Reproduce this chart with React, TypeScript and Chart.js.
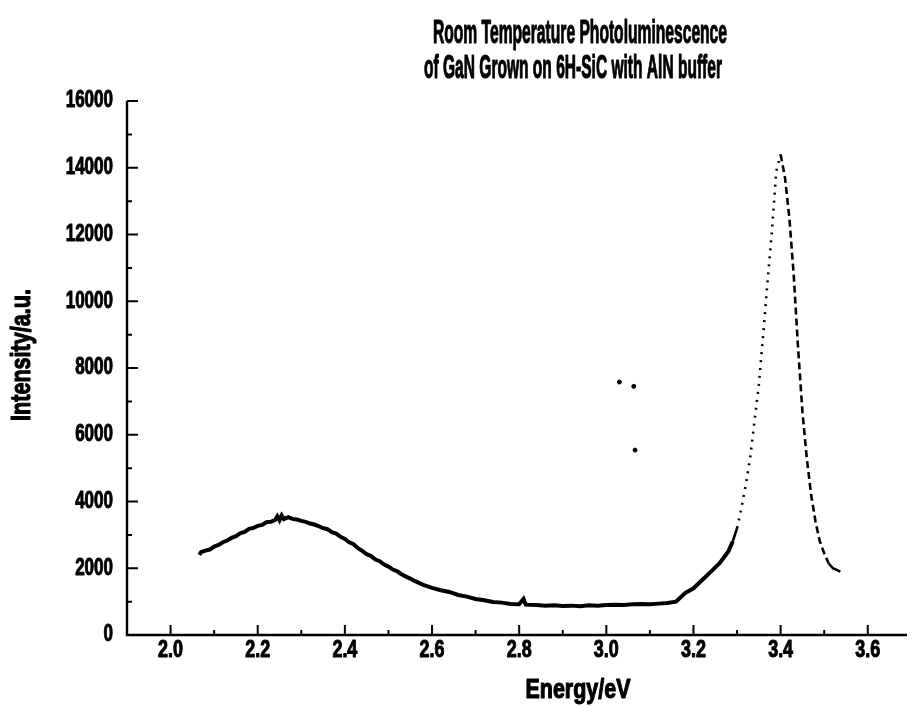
import React, { useEffect, useRef } from "react";
import { Chart, registerables } from "chart.js";

Chart.register(...registerables);

const energy = [
  2.066, 2.07, 2.08, 2.09, 2.1, 2.11, 2.12, 2.13, 2.14, 2.15, 2.16, 2.17, 2.18, 2.19, 2.2, 2.21, 2.22, 2.23, 2.24,
  2.245, 2.25, 2.255, 2.26, 2.27, 2.28, 2.29, 2.3, 2.31, 2.32, 2.33, 2.34, 2.35, 2.36, 2.37, 2.38, 2.39, 2.4, 2.41,
  2.42, 2.43, 2.44, 2.45, 2.46, 2.47, 2.48, 2.49, 2.5, 2.51, 2.52, 2.53, 2.54, 2.55, 2.56, 2.57, 2.58, 2.59, 2.6,
  2.62, 2.64, 2.66, 2.68, 2.7, 2.72, 2.74, 2.76, 2.78, 2.8, 2.81, 2.815, 2.84, 2.86, 2.88, 2.9, 2.92, 2.94, 2.96,
  2.98, 3.0, 3.02, 3.04, 3.06, 3.08, 3.1, 3.12, 3.14, 3.16, 3.18, 3.2, 3.22, 3.24, 3.26, 3.28, 3.29, 3.3, 3.31,
  3.32, 3.33, 3.34, 3.35, 3.36, 3.37, 3.38, 3.39, 3.4, 3.41, 3.42, 3.43, 3.44, 3.45, 3.46, 3.47, 3.48, 3.49, 3.5,
  3.51, 3.52, 3.537,
];
const intensity = [
  2400, 2480, 2530, 2560, 2650, 2700, 2780, 2830, 2910, 2960, 3050, 3090, 3180, 3210, 3270, 3300, 3380, 3390, 3450,
  3560, 3440, 3580, 3470, 3530, 3480, 3460, 3420, 3390, 3340, 3310, 3260, 3200, 3170, 3080, 3040, 2940, 2880, 2780,
  2720, 2600, 2520, 2420, 2370, 2260, 2210, 2110, 2050, 1960, 1910, 1820, 1750, 1690, 1620, 1560, 1500, 1460, 1410,
  1340, 1290, 1200, 1150, 1080, 1040, 990, 970, 930, 920, 1080, 910, 900, 880, 890, 870, 880, 860, 890,
  880, 900, 910, 900, 920, 930, 920, 940, 960, 1000, 1250, 1400, 1650, 1900, 2150, 2500, 2800, 3200, 3800,
  4500, 5300, 6400, 7500, 9000, 10600, 12100, 13900, 14400, 13700, 12500, 10800, 8600, 6700, 5300, 4200, 3400, 2800, 2450,
  2150, 2000, 1900,
];

const strayEnergy = [3.03, 3.063, 3.066];
const strayIntensity = [7580, 7450, 5540];

const xTickValues = [2.0, 2.2, 2.4, 2.6, 2.8, 3.0, 3.2, 3.4, 3.6];
const xMinorValues = [2.1, 2.3, 2.5, 2.7, 2.9, 3.1, 3.3, 3.5];
const yTickValues = [0, 2000, 4000, 6000, 8000, 10000, 12000, 14000, 16000];
const yMinorValues = [1000, 3000, 5000, 7000, 9000, 11000, 13000, 15000];

const titleLines = ["Room Temperature Photoluminescence", "of GaN Grown on 6H-SiC with AlN buffer"];
const xTitle = "Energy/eV";
const yTitle = "Intensity/a.u.";

const FONT = "'Liberation Sans', Arial, sans-serif";

function drawText(
  ctx: CanvasRenderingContext2D,
  text: string,
  x: number,
  y: number,
  size: number,
  opts: { width?: number; sx?: number; align?: CanvasTextAlign; rotate?: boolean; stroke?: number }
) {
  ctx.save();
  ctx.font = `bold ${size}px ${FONT}`;
  ctx.fillStyle = "#000";
  ctx.strokeStyle = "#000";
  ctx.lineWidth = opts.stroke ?? 1.2;
  ctx.lineJoin = "round";
  ctx.textAlign = opts.align ?? "center";
  ctx.textBaseline = "middle";
  ctx.translate(x, y);
  if (opts.rotate) ctx.rotate(-Math.PI / 2);
  const w = ctx.measureText(text).width;
  const sx = opts.width ? opts.width / w : opts.sx ?? 1;
  ctx.scale(sx, 1);
  ctx.fillText(text, 0, 0);
  ctx.strokeText(text, 0, 0);
  ctx.restore();
}

const framePlugin = {
  id: "frame",
  afterDraw(chart: any) {
    const ctx: CanvasRenderingContext2D = chart.ctx;
    const xs = chart.scales.x;
    const ys = chart.scales.y;
    const left = xs.left;
    const right = xs.right;
    const bottom = ys.bottom;
    const top = ys.top;
    ctx.save();
    ctx.strokeStyle = "#000";
    ctx.lineWidth = 2.4;
    ctx.beginPath();
    ctx.moveTo(left, top);
    ctx.lineTo(left, bottom);
    ctx.lineTo(right, bottom);
    ctx.stroke();
    ctx.lineWidth = 2;
    ctx.beginPath();
    xTickValues.forEach((v) => {
      const p = xs.getPixelForValue(v);
      ctx.moveTo(p, bottom);
      ctx.lineTo(p, bottom - 10);
    });
    xMinorValues.forEach((v) => {
      const p = xs.getPixelForValue(v);
      ctx.moveTo(p, bottom);
      ctx.lineTo(p, bottom - 5);
    });
    yTickValues.forEach((v) => {
      const p = ys.getPixelForValue(v);
      ctx.moveTo(left, p);
      ctx.lineTo(left + 11, p);
    });
    yMinorValues.forEach((v) => {
      const p = ys.getPixelForValue(v);
      ctx.moveTo(left, p);
      ctx.lineTo(left + 5, p);
    });
    ctx.stroke();
    ctx.restore();

    xs.ticks.forEach((t: any) => {
      drawText(ctx, Number(t.value).toFixed(1), xs.getPixelForValue(t.value), bottom + 16, 23, { sx: 0.78, stroke: 1 });
    });
    ys.ticks.forEach((t: any) => {
      drawText(ctx, String(t.value), left - 14, ys.getPixelForValue(t.value), 23, { sx: 0.74, align: "right", stroke: 1 });
    });

    drawText(ctx, titleLines[0], 580, 34, 34, { width: 294 });
    drawText(ctx, titleLines[1], 573, 69, 34, { width: 298 });
    drawText(ctx, xTitle, 578, 690, 28, { width: 105 });
    drawText(ctx, yTitle, 22, 355, 28, { width: 132, rotate: true });
  },
};

export default function App() {
  const ref = useRef<HTMLCanvasElement | null>(null);
  useEffect(() => {
    if (!ref.current) return;
    const chart = new Chart(ref.current, {
      type: "line",
      data: {
        datasets: [
          {
            data: energy.map((x, i) => ({ x, y: intensity[i] })),
            borderColor: "#000",
            backgroundColor: "#000",
            borderWidth: 4,
            pointRadius: 0,
            tension: 0,
            segment: {
              borderDash: (c: any) => {
                const x0 = c.p0.parsed.x;
                if (x0 >= 3.3 && x0 < 3.4) return [2, 6];
                if (x0 >= 3.4 && x0 < 3.51) return [7, 4];
                return undefined;
              },
              borderWidth: (c: any) => (c.p0.parsed.x >= 3.29 ? 2.6 : 4),
            },
          } as any,
          {
            type: "scatter",
            data: strayEnergy.map((x, i) => ({ x, y: strayIntensity[i] })),
            backgroundColor: "#000",
            borderColor: "#000",
            pointRadius: 2,
            showLine: false,
          } as any,
        ],
      },
      options: {
        animation: false,
        responsive: true,
        maintainAspectRatio: false,
        layout: { padding: { top: 101, right: 2, left: 0, bottom: 0 } },
        plugins: {
          legend: { display: false },
          tooltip: { enabled: false },
          title: { display: false },
        },
        scales: {
          x: {
            type: "linear",
            min: 1.9,
            max: 3.69,
            grid: { display: false, drawTicks: false },
            border: { display: false },
            afterBuildTicks: (s: any) => {
              s.ticks = xTickValues.map((v) => ({ value: v }));
            },
            afterFit: (s: any) => {
              s.height = 72;
            },
            ticks: { display: false, autoSkip: false },
          },
          y: {
            type: "linear",
            min: 0,
            max: 16000,
            grid: { display: false, drawTicks: false },
            border: { display: false },
            afterBuildTicks: (s: any) => {
              s.ticks = yTickValues.map((v) => ({ value: v }));
            },
            afterFit: (s: any) => {
              s.width = 127;
            },
            ticks: { display: false },
          },
        },
      },
      plugins: [framePlugin],
    } as any);
    return () => chart.destroy();
  }, []);
  return (
    <div style={{ position: "fixed", left: 0, top: 0, width: 912, height: 707, background: "#fff" }}>
      <canvas ref={ref} />
    </div>
  );
}
